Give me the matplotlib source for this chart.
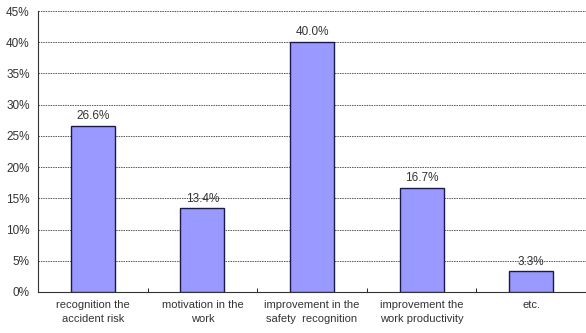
import matplotlib.pyplot as plt
import numpy as np

plt.rcParams['font.family'] = ['Liberation Sans', 'DejaVu Sans']

categories = ["recognition the\naccident risk", "motivation in the\nwork",
              "improvement in the\nsafety  recognition", "improvement the\nwork productivity",
              "etc."]
values = [26.6, 13.4, 40.0, 16.7, 3.3]
yticks = [0, 5, 10, 15, 20, 25, 30, 35, 40, 45]

fig = plt.figure(figsize=(5.86, 3.33), dpi=100)
ax = fig.add_axes([38 / 586, (333 - 292) / 333, (586 - 38) / 586, 281 / 333])

x = np.arange(len(values))
ax.bar(x, values, width=0.4, color="#9999ff", edgecolor="#1a1a4a", linewidth=1.0, zorder=3)

# Value labels above the bars
for xi, v in zip(x, values):
    ax.text(xi, v + 0.6, f"{v:.1f}%", ha="center", va="bottom", fontsize=8.5, color="#333333", zorder=4)

ax.set_xlim(-0.5, len(values) - 0.5)
ax.set_ylim(0, 45)
ax.set_yticks(yticks)
ax.set_yticklabels([f"{t}%" for t in yticks], fontsize=8.5, color="#333333")
ax.yaxis.grid(True, linestyle=(0, (1.5, 1)), color="#555555", linewidth=0.7, zorder=0)

ax.set_xticks(x)
ax.set_xticklabels(categories, fontsize=8, color="#333333", linespacing=1.5)
ax.tick_params(axis="x", which="major", length=0, pad=6)
ax.set_xticks(np.arange(0.5, len(values) - 1, 1.0), minor=True)
ax.tick_params(axis="x", which="minor", length=3, direction="in")
ax.tick_params(axis="y", length=0, pad=6)

for side in ["top", "right"]:
    ax.spines[side].set_visible(False)
ax.spines["left"].set_color("#333333")
ax.spines["bottom"].set_color("#333333")

plt.savefig("out.png", dpi=100)
